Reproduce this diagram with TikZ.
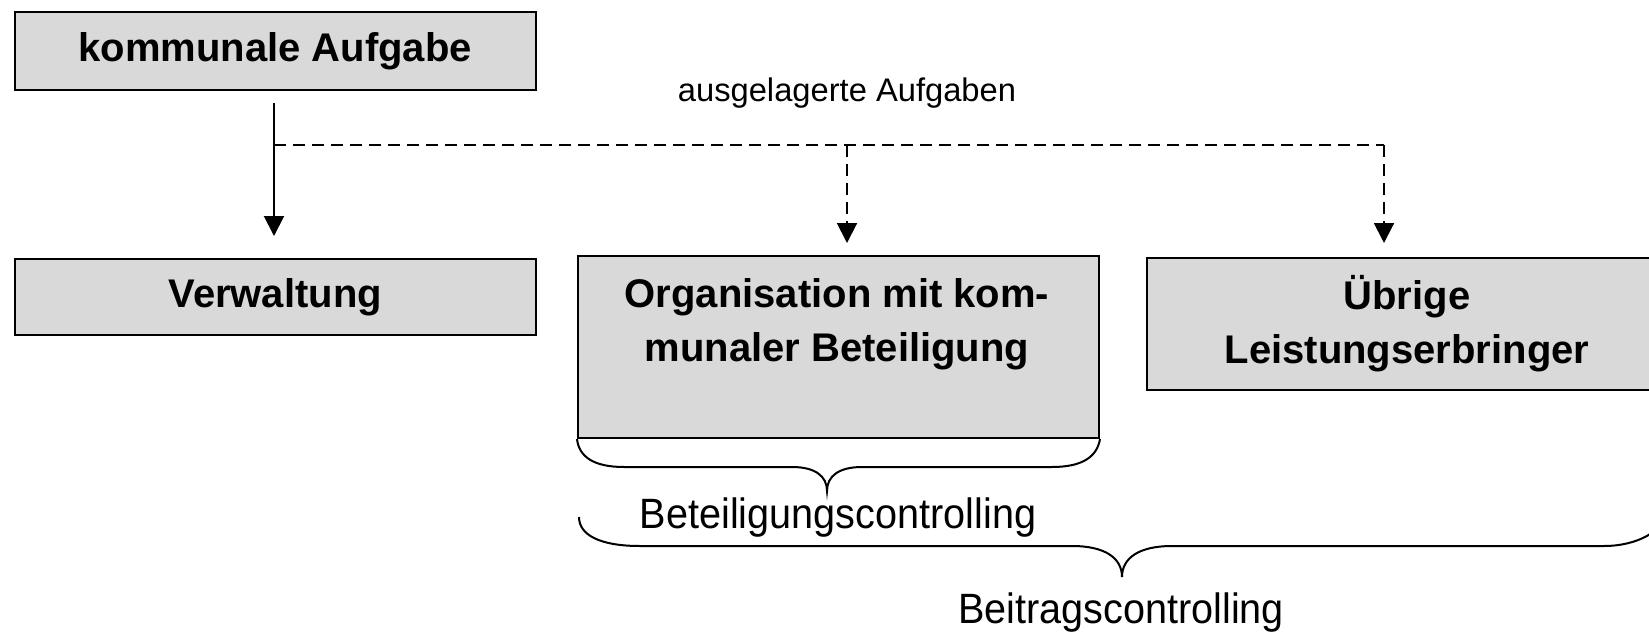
\documentclass[tikz,border=0pt]{standalone}
\usepackage{fontspec}
\usepackage{graphicx}
\setmainfont{Liberation Sans}
\usetikzlibrary{arrows.meta}
\definecolor{boxgray}{RGB}{217,217,217}
\begin{document}
\begin{tikzpicture}[x=1pt,y=-1pt,
  box/.style={draw=black, line width=2pt, fill=boxgray, inner sep=0pt, anchor=north west,
              font=\fontsize{40}{54}\selectfont\bfseries, align=center},
  lbl/.style={inner sep=0pt, font=\fontsize{40}{54}\selectfont\bfseries, align=center},
  plain/.style={inner sep=0pt, font=\fontsize{40}{48}\selectfont},
  small/.style={inner sep=0pt, font=\fontsize{32.7}{40}\selectfont},
  conn/.style={line width=2pt, -{Triangle[width=20pt,length=20pt]}},
  dashline/.style={line width=2pt, dash pattern=on 12pt off 7pt},
  bracepath/.style={line width=2pt}]
\useasboundingbox (0,0) rectangle (1649,634);
\clip (0,0) rectangle (1649,634);

% boxes
\node[box, minimum width=521.5pt, minimum height=77.5pt] (komm) at (13.5,11.5) {kommunale Aufgabe};
\node[box, minimum width=521.5pt, minimum height=76pt] (verw) at (13.5,258) {Verwaltung};
\node[box, minimum width=521pt, minimum height=182.5pt] (org) at (577,254.5) {};
\node[lbl, anchor=north] (orgtext) at (837,278.5) {Organisation mit kom-\\munaler Beteiligung};
\node[box, minimum width=520pt, minimum height=132pt] (ubr) at (1146,257) {Übrige\\Leistungserbringer};

% labels
\node[small, anchor=base] (aus) at (847,101) {ausgelagerte Aufgaben};
\node[plain, anchor=base] (betc) at (838,528) {\scalebox{0.99}[1.06]{Beteiligungscontrolling}};
\node[plain, anchor=base] (beic) at (1121,623) {\scalebox{0.99}[1.06]{Beitragscontrolling}};

% connectors
\coordinate (kstart) at (274,103);
\coordinate (split) at (274,145);
\coordinate (mc) at (847,145);
\coordinate (rc) at (1384,145);
\draw[conn, shorten >=22pt] (kstart) -- (kstart |- verw.north);
\draw[dashline] (split) -- (rc);
\draw[dashline, conn, shorten >=11.5pt] (mc) -- (mc |- org.north);
\draw[dashline, conn, shorten >=14pt] (rc) -- (rc |- ubr.north);

% braces
\draw[bracepath] (org.south west) .. controls (579,457) and (594,467) .. (624,467)
  -- (792,467) .. controls (815,467) and (827,476) .. (827,491)
  .. controls (827,476) and (839,467) .. (862,467)
  -- (1052,467) .. controls (1082,467) and (1097,457) .. (org.south east);
\draw[bracepath] (579,517) .. controls (579,535) and (600,546) .. (640,546)
  -- (1072,546) .. controls (1105,546) and (1122,558) .. (1122,577)
  .. controls (1122,558) and (1139,546) .. (1172,546)
  -- (1604,546) .. controls (1638,546) and (1665,530) .. (1665,512);
\end{tikzpicture}
\end{document}
